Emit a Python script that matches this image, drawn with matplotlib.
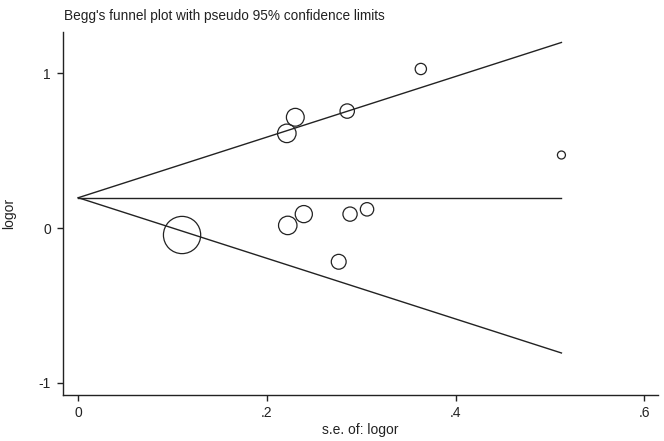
import matplotlib
matplotlib.use("Agg")
import matplotlib.pyplot as plt
import numpy as np

# study data: standard error and log odds ratio
se = [0.110, 0.230, 0.221, 0.285, 0.222, 0.239, 0.288, 0.306, 0.276, 0.363, 0.512]
logor = [-0.045, 0.716, 0.612, 0.756, 0.017, 0.090, 0.090, 0.121, -0.218, 1.028, 0.472]
pooled = 0.196
xticks = [0, 0.2, 0.4, 0.6]
xticklabels = ["0", ".2", ".4", ".6"]
yticks = [-1, 0, 1]
yticklabels = ["-1", "0", "1"]

font = ["Liberation Sans", "DejaVu Sans"]
plt.rcParams["font.family"] = font

fig = plt.figure(figsize=(6.64, 4.41), dpi=100)
ax = fig.add_axes([0.0944, 0.1054, 0.8961, 0.8227])

se_arr = np.array(se)
lo = np.array(logor)
sizes = (2.95 / se_arr) ** 2
ax.scatter(se_arr, lo, s=sizes, facecolors="none", edgecolors="#222222", linewidths=0.9, zorder=3)

smax = se_arr.max()
sx = np.array([0, smax])
ax.plot(sx, [pooled, pooled], color="#222222", lw=1.0)
ax.plot(sx, pooled + 1.96 * sx, color="#222222", lw=1.0)
ax.plot(sx, pooled - 1.96 * sx, color="#222222", lw=1.0)

ax.set_xlim(-0.0165, 0.614)
ax.set_ylim(-1.076, 1.269)
ax.set_xticks(xticks)
ax.set_xticklabels(xticklabels)
ax.set_yticks(yticks)
ax.set_yticklabels(yticklabels)
ax.tick_params(direction="out", length=4.5, width=1, colors="#222222", labelsize=10, pad=4)
for s in ["top", "right"]:
    ax.spines[s].set_visible(False)
for s in ["left", "bottom"]:
    ax.spines[s].set_color("#222222")
    ax.spines[s].set_linewidth(1.0)

ax.set_xlabel("s.e. of: logor", fontsize=10, color="#222222", labelpad=2)
ax.set_ylabel("logor", fontsize=10, color="#222222", labelpad=16)
fig.text(0.097, 0.955, "Begg's funnel plot with pseudo 95% confidence limits",
         fontsize=9.8, color="#222222", ha="left", va="baseline")

fig.savefig("out.png", dpi=100)
